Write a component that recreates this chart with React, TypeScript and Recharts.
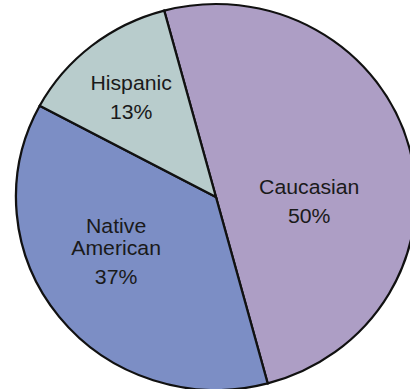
import React from 'react';
import { PieChart, Pie, Cell } from 'recharts';

const groups = ['Caucasian', 'Native American', 'Hispanic'];
const shares = [50, 37, 13];
const colors = ['#ad9ec5', '#7c8ec5', '#b8cccc'];

// the original pie is a little wider than tall
const STRETCH = 200 / 193;

// where each label sits: fraction of radius and turn away from the slice middle
const labelPlacement: Record<string, { ratio: number; turn: number }> = {
  Caucasian: { ratio: 0.467, turn: -18 },
  'Native American': { ratio: 0.573, turn: -9 },
  Hispanic: { ratio: 0.668, turn: 1 },
};

const data = groups.map((name, i) => ({ name, value: shares[i] }));
const total = shares.reduce((a, b) => a + b, 0);

const RAD = Math.PI / 180;

const renderLabel = (props: any) => {
  const { cx, cy, midAngle, outerRadius, name, value } = props;
  const place = labelPlacement[name] || { ratio: 0.6, turn: 0 };
  const ang = (midAngle + place.turn) * RAD;
  const r = outerRadius * place.ratio;
  const x = cx + r * Math.cos(ang);
  const y = cy - r * Math.sin(ang);

  const nameLines = String(name).split(' ');
  const nameLH = 22;
  const pctGap = 29;
  const span = (nameLines.length - 1) * nameLH + pctGap;
  const first = y - span / 2 + 7;
  const pct = Math.round((value / total) * 100) + '%';

  return (
    <text
      x={x}
      textAnchor="middle"
      fill="#1a1a1a"
      fontFamily="'Liberation Sans', Arial, sans-serif"
      fontSize={20.5}
    >
      {nameLines.map((line, i) => (
        <tspan key={line} x={x} y={first + i * nameLH}>
          {line}
        </tspan>
      ))}
      <tspan x={x} y={first + (nameLines.length - 1) * nameLH + pctGap}>
        {pct}
      </tspan>
    </text>
  );
};

export default function App() {
  return (
    <div
      style={{
        position: 'absolute',
        left: 0,
        top: 0,
        width: 410,
        height: 389,
        overflow: 'hidden',
        background: '#fff',
      }}
    >
      <div style={{ transform: `scaleX(${STRETCH})`, transformOrigin: '0 0' }}>
        <PieChart width={410} height={389} margin={{ top: 0, right: 0, bottom: 0, left: 0 }}>
          <Pie
            data={data}
            dataKey="value"
            nameKey="name"
            cx={208.4}
            cy={197}
            outerRadius={193}
            startAngle={105}
            endAngle={-255}
            stroke="#111"
            strokeWidth={2.2}
            label={renderLabel}
            labelLine={false}
            isAnimationActive={false}
          >
            {data.map((d, i) => (
              <Cell key={d.name} fill={colors[i]} />
            ))}
          </Pie>
        </PieChart>
      </div>
    </div>
  );
}
